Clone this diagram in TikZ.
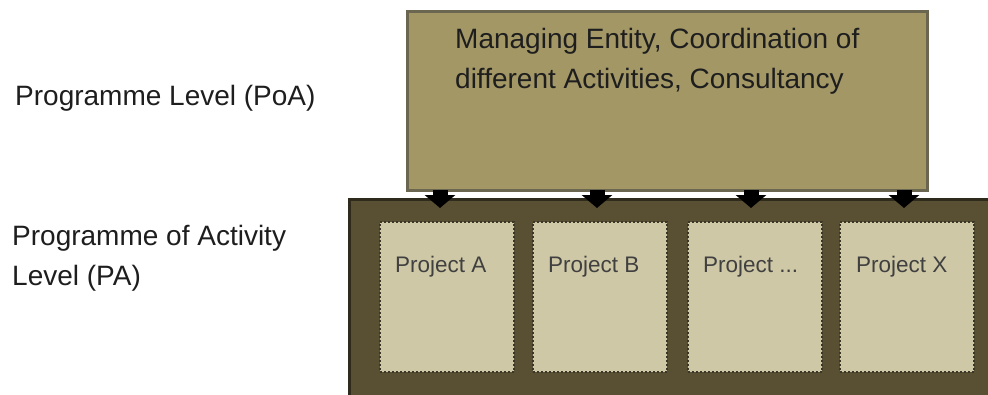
\documentclass[tikz,border=0pt]{standalone}
\usepackage{fontspec}
\setmainfont{Liberation Sans}
\usetikzlibrary{arrows.meta}
\definecolor{topfill}{HTML}{A39766}
\definecolor{topline}{HTML}{6B6650}
\definecolor{outerfill}{HTML}{595033}
\definecolor{outerline}{HTML}{2F2B1C}
\definecolor{projfill}{HTML}{CFC8A6}
\definecolor{projline}{HTML}{3A3628}
\definecolor{txt}{HTML}{1E1E1E}
\tikzset{
  topbox/.style={rectangle, fill=topfill, draw=topline, line width=3pt, minimum width=520pt, minimum height=179pt, inner sep=0pt},
  outerbox/.style={rectangle, fill=outerfill, draw=outerline, line width=3pt, minimum width=643pt, minimum height=199pt, inner sep=0pt},
  projbox/.style={rectangle, fill=projfill, draw=projline, dash pattern=on 2pt off 2pt, line width=2.5pt, minimum width=134pt, minimum height=150pt, inner sep=0pt},
  lbl/.style={anchor=base west, inner sep=0pt, text=txt, font=\fontsize{28}{40}\selectfont, align=left},
  plbl/.style={anchor=base west, inner sep=0pt, text=txt!85, font=\fontsize{22.5}{26}\selectfont},
  downarrow/.style={line width=15pt, -{Triangle[width=30pt,length=13pt]}, black}
}
\begin{document}
\begin{tikzpicture}[x=1pt,y=-1pt]
\useasboundingbox (0,0) rectangle (988,394);
\clip (0,0) rectangle (988,394);
\fill[white] (0,0) rectangle (988,394);
% boxes
\node[outerbox] (outer) at (670.5,298.5) {};
\node[topbox] (top) at (667,100.5) {};
\node[projbox] (pA) at (447,297) {};
\node[projbox] (pB) at (600,297) {};
\node[projbox] (pC) at (755,297) {};
\node[projbox] (pX) at (907,297) {};
% texts
\node[lbl] (t1) at (15,105) {Programme Level (PoA)};
\node[lbl] (t2) at (12,285) {Programme of Activity\\Level (PA)};
\node[lbl] (ttop) at (455,88) {Managing Entity, Coordination of\\different Activities, Consultancy};
\node[plbl] (lA) at (395,272) {Project A};
\node[plbl] (lB) at (548,272) {Project B};
\node[plbl] (lC) at (703,272) {Project ...};
\node[plbl] (lX) at (856,272) {Project X};
% arrows
\foreach \x/\n in {440/a,597/b,751/c,904/d}{
  \coordinate (s\n) at (\x,190);
  \coordinate (e\n) at (\x,208);
  \draw[downarrow] (s\n) -- (e\n);
}
\end{tikzpicture}
\end{document}
